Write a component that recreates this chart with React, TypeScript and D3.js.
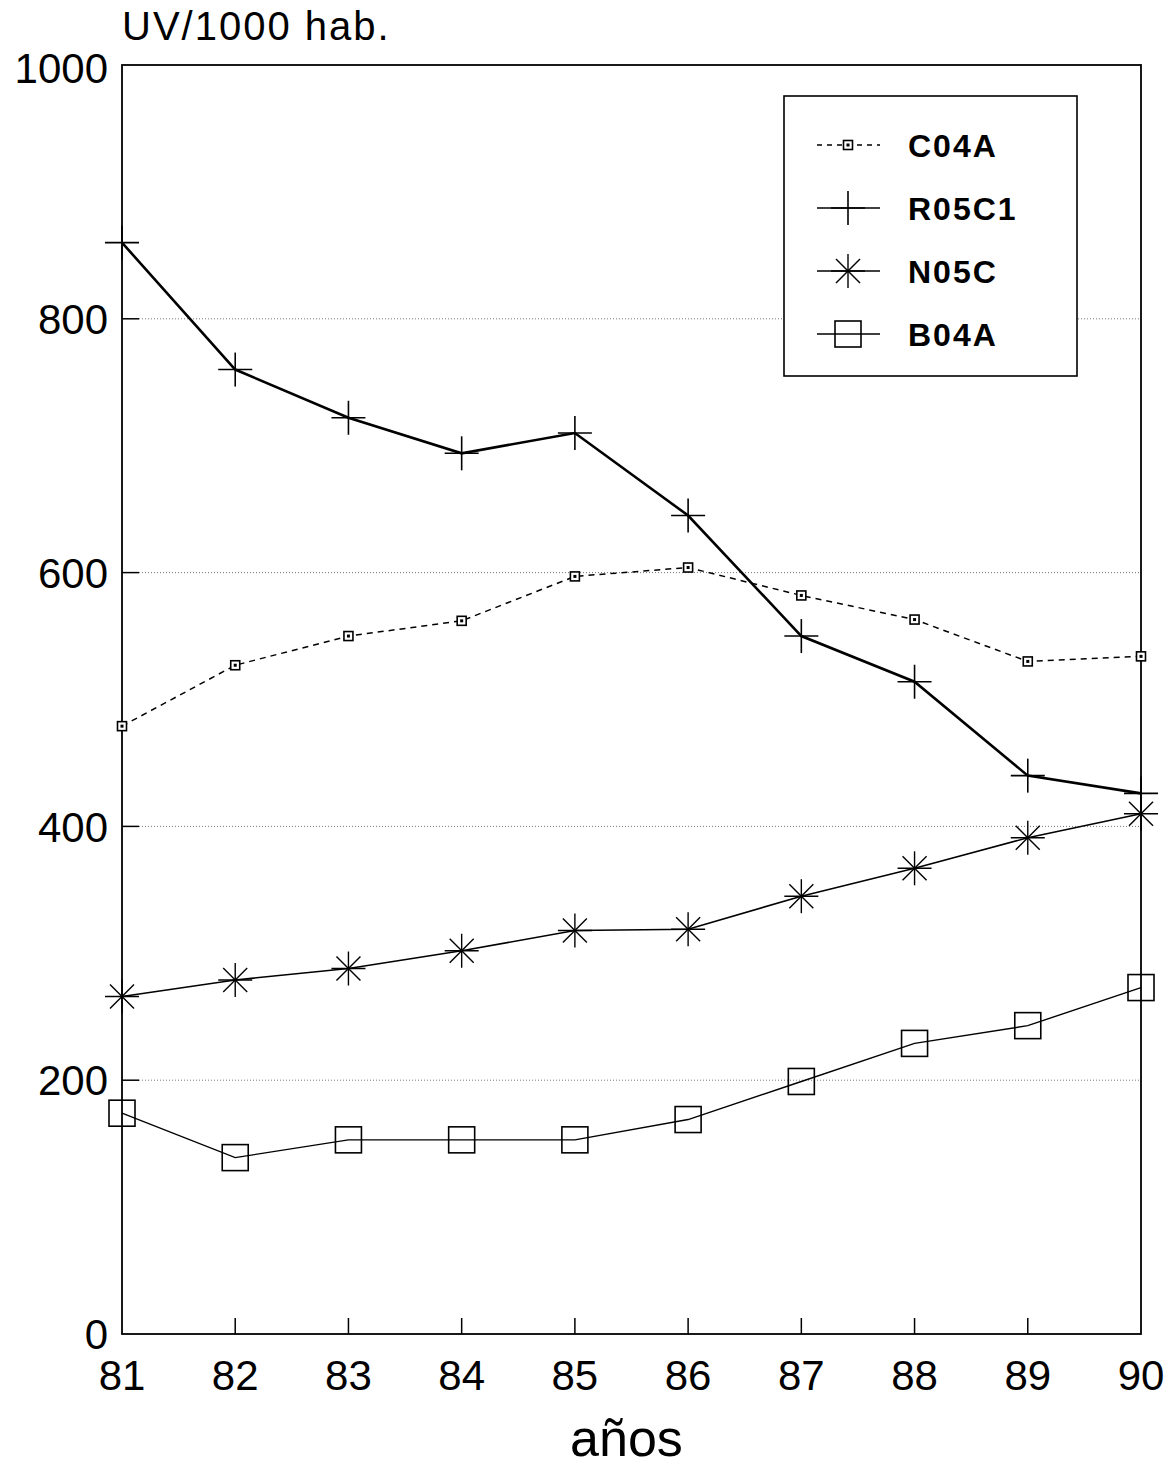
import React from "react";
import * as d3 from "d3";

const years = ["81", "82", "83", "84", "85", "86", "87", "88", "89", "90"];
const c04a = [479, 527, 550, 562, 597, 604, 582, 563, 530, 534];
const r05c1 = [860, 760, 722, 694, 710, 645, 550, 514, 440, 426];
const n05c = [266, 279, 288, 302, 318, 319, 345, 367, 391, 410];
const b04a = [174, 139, 153, 153, 153, 169, 199, 229, 243, 273];
const yTicks = [0, 200, 400, 600, 800, 1000];
const gridTicks = [200, 400, 600, 800];

const seriesList = [
  { name: "C04A", values: c04a, marker: "smallSquare", width: 1.5, dash: "6 5" },
  { name: "R05C1", values: r05c1, marker: "plus", width: 2.6, dash: null },
  { name: "N05C", values: n05c, marker: "star", width: 1.6, dash: null },
  { name: "B04A", values: b04a, marker: "square", width: 1.4, dash: null },
];

const width = 1170;
const height = 1466;
const margin = { top: 65, right: 29, bottom: 132, left: 122 };
const font = "'Liberation Sans', Arial, sans-serif";

function Marker({ kind, x, y }) {
  if (kind === "plus") {
    return (
      <g stroke="#000" strokeWidth={1.6}>
        <line x1={x - 17} x2={x + 17} y1={y} y2={y} />
        <line x1={x} x2={x} y1={y - 17} y2={y + 17} />
      </g>
    );
  }
  if (kind === "star") {
    const r = 17;
    const d = 12;
    return (
      <g stroke="#000" strokeWidth={1.4}>
        <line x1={x - r} x2={x + r} y1={y} y2={y} />
        <line x1={x} x2={x} y1={y - r} y2={y + r} />
        <line x1={x - d} x2={x + d} y1={y - d} y2={y + d} />
        <line x1={x - d} x2={x + d} y1={y + d} y2={y - d} />
      </g>
    );
  }
  if (kind === "square") {
    return (
      <rect x={x - 13} y={y - 13} width={26} height={26} fill="none" stroke="#000" strokeWidth={1.6} />
    );
  }
  return (
    <g>
      <rect x={x - 4.5} y={y - 4.5} width={9} height={9} fill="#fff" stroke="#000" strokeWidth={1.6} />
      <rect x={x - 1.5} y={y - 1.5} width={3} height={3} fill="#000" />
    </g>
  );
}

export default function App() {
  const innerW = width - margin.left - margin.right;
  const innerH = height - margin.top - margin.bottom;

  const x = d3.scalePoint().domain(years).range([0, innerW]);
  const y = d3.scaleLinear().domain([0, 1000]).range([innerH, 0]);

  const line = d3
    .line<number>()
    .x((_, i) => x(years[i]))
    .y((d) => y(d));

  return (
    <svg width={width} height={height} style={{ position: "absolute", left: 0, top: 0, background: "#fff" }}>
      <text x={122} y={40} fontFamily={font} fontSize={40} letterSpacing={2}>
        UV/1000 hab.
      </text>
      <g transform={`translate(${margin.left}, ${margin.top})`}>
        {/* grid */}
        {gridTicks.map((t) => (
          <g key={t}>
            <line x1={0} x2={17} y1={y(t)} y2={y(t)} stroke="#000" strokeWidth={1.5} />
            <line x1={17} x2={innerW} y1={y(t)} y2={y(t)} stroke="#777" strokeWidth={1} strokeDasharray="1 2" />
          </g>
        ))}
        {/* x ticks */}
        {years.slice(1, -1).map((yr) => (
          <line key={yr} x1={x(yr)} x2={x(yr)} y1={innerH} y2={innerH - 16} stroke="#000" strokeWidth={1.5} />
        ))}
        <rect x={0} y={0} width={innerW} height={innerH} fill="none" stroke="#000" strokeWidth={1.8} />

        {/* y labels */}
        {yTicks.map((t) => (
          <text key={t} x={-14} y={y(t)} dy={t === 1000 ? "0.42em" : "0.36em"} textAnchor="end" fontFamily={font} fontSize={42}>
            {t}
          </text>
        ))}
        {/* x labels */}
        {years.map((yr) => (
          <text key={yr} x={x(yr)} y={innerH + 56} textAnchor="middle" fontFamily={font} fontSize={42}>
            {yr}
          </text>
        ))}
        <text x={innerW / 2 - 5} y={innerH + 122} textAnchor="middle" fontFamily={font} fontSize={52}>
          años
        </text>

        {/* series */}
        {seriesList.map((s) => (
          <g key={s.name}>
            <path
              d={line(s.values)}
              fill="none"
              stroke="#000"
              strokeWidth={s.width}
              strokeDasharray={s.dash || undefined}
            />
            {s.values.map((v, i) => (
              <Marker key={i} kind={s.marker} x={x(years[i])} y={y(v)} />
            ))}
          </g>
        ))}
      </g>

      {/* legend */}
      <g transform="translate(784, 96)">
        <rect x={0} y={0} width={293} height={280} fill="#fff" stroke="#000" strokeWidth={1.6} />
        {seriesList.map((s, i) => {
          const ly = 49 + i * 63;
          return (
            <g key={s.name}>
              <line
                x1={33}
                x2={96}
                y1={ly}
                y2={ly}
                stroke="#000"
                strokeWidth={s.dash ? 1.4 : 1.6}
                strokeDasharray={s.dash ? "5 5" : undefined}
              />
              <Marker kind={s.marker} x={64} y={ly} />
              <text x={124} y={ly} dy="0.36em" fontFamily={font} fontSize={32} fontWeight="bold" letterSpacing={2}>
                {s.name}
              </text>
            </g>
          );
        })}
      </g>
    </svg>
  );
}
